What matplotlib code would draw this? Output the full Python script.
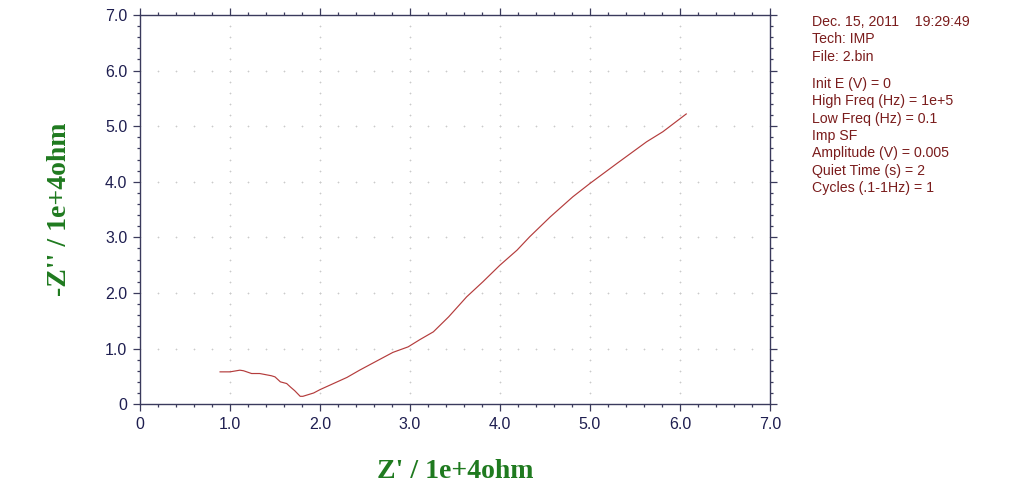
import numpy as np
import matplotlib
matplotlib.use("Agg")
import matplotlib.pyplot as plt
from matplotlib.ticker import MultipleLocator, FixedLocator

# Data (Z' and -Z'' in units of 1e+4 ohm)
z_real = [0.89, 1.00, 1.11, 1.15, 1.24, 1.33, 1.46, 1.50, 1.56, 1.63, 1.67, 1.72,
          1.78, 1.81, 1.93, 2.00, 2.15, 2.30, 2.44, 2.59, 2.81, 2.98, 3.11, 3.26,
          3.43, 3.48, 3.63, 3.81, 4.00, 4.19, 4.33, 4.56, 4.81, 5.00, 5.30, 5.63,
          5.81, 6.07]
z_imag = [0.58, 0.58, 0.61, 0.60, 0.55, 0.55, 0.51, 0.49, 0.40, 0.37, 0.31, 0.24,
          0.14, 0.14, 0.20, 0.26, 0.37, 0.48, 0.61, 0.74, 0.93, 1.03, 1.16, 1.30,
          1.57, 1.66, 1.93, 2.20, 2.50, 2.77, 3.01, 3.37, 3.73, 3.97, 4.33, 4.72,
          4.90, 5.22]

x_ticks = [0, 1, 2, 3, 4, 5, 6, 7]
x_ticklabels = ["0", "1.0", "2.0", "3.0", "4.0", "5.0", "6.0", "7.0"]
y_ticks = [0, 1, 2, 3, 4, 5, 6, 7]
y_ticklabels = ["0", "1.0", "2.0", "3.0", "4.0", "5.0", "6.0", "7.0"]

info_lines = ["Dec. 15, 2011    19:29:49", "Tech: IMP", "File: 2.bin"]
param_lines = ["Init E (V) = 0", "High Freq (Hz) = 1e+5", "Low Freq (Hz) = 0.1",
               "Imp SF", "Amplitude (V) = 0.005", "Quiet Time (s) = 2",
               "Cycles (.1-1Hz) = 1"]

axis_col = "#3a3a5c"
tick_col = "#1e1e50"
label_col = "#1f7a1f"
text_col = "#7a1c1c"
line_col = "#b43c3c"

fig = plt.figure(figsize=(10.24, 4.94), dpi=100)
ax = fig.add_axes([0.1367, 0.182, 0.6152, 0.7876])
ax.set_xlim(0, 7)
ax.set_ylim(0, 7)

# dotted grid: dots at minor positions along major lines
minor = np.arange(0, 7.0001, 0.2)
for xv in x_ticks[1:-1]:
    ax.plot(np.full_like(minor, xv), minor, linestyle="none", marker="+",
            markersize=2.0, markeredgewidth=0.5, color="#cacaca", zorder=1)
for yv in y_ticks[1:-1]:
    ax.plot(minor, np.full_like(minor, yv), linestyle="none", marker="+",
            markersize=2.0, markeredgewidth=0.5, color="#cacaca", zorder=1)

ax.plot(z_real, z_imag, color=line_col, linewidth=0.85, zorder=3)

ax.xaxis.set_major_locator(FixedLocator(x_ticks))
ax.yaxis.set_major_locator(FixedLocator(y_ticks))
ax.set_xticklabels(x_ticklabels)
ax.set_yticklabels(y_ticklabels)
ax.xaxis.set_minor_locator(MultipleLocator(0.2))
ax.yaxis.set_minor_locator(MultipleLocator(0.2))

for sp in ax.spines.values():
    sp.set_color(axis_col)
    sp.set_linewidth(1.0)

ax.tick_params(which="both", direction="out", top=True, right=True,
               color=axis_col, width=0.9)
ax.tick_params(which="major", length=5, labelsize=11.5, labelcolor=tick_col, pad=4)
ax.tick_params(which="minor", length=2.5)
for lab in ax.get_xticklabels() + ax.get_yticklabels():
    lab.set_fontfamily("Liberation Sans")

ax.set_xlabel("Z' / 1e+4ohm", fontfamily="Liberation Serif", fontweight="bold",
              fontsize=20, color=label_col, labelpad=20)
ax.set_ylabel("-Z'' / 1e+4ohm", fontfamily="Liberation Serif", fontweight="bold",
              fontsize=20, color=label_col, labelpad=24)

# info text block
x0 = 812 / 1024
y = 1 - 22 / 494
step = 17.4 / 494
for t in info_lines:
    fig.text(x0, y, t, color=text_col, fontsize=10.2, fontfamily="Liberation Sans",
             va="center", ha="left")
    y -= step
y -= 0.55 * step
for t in param_lines:
    fig.text(x0, y, t, color=text_col, fontsize=10.2, fontfamily="Liberation Sans",
             va="center", ha="left")
    y -= step

fig.savefig("out.png", dpi=100)
